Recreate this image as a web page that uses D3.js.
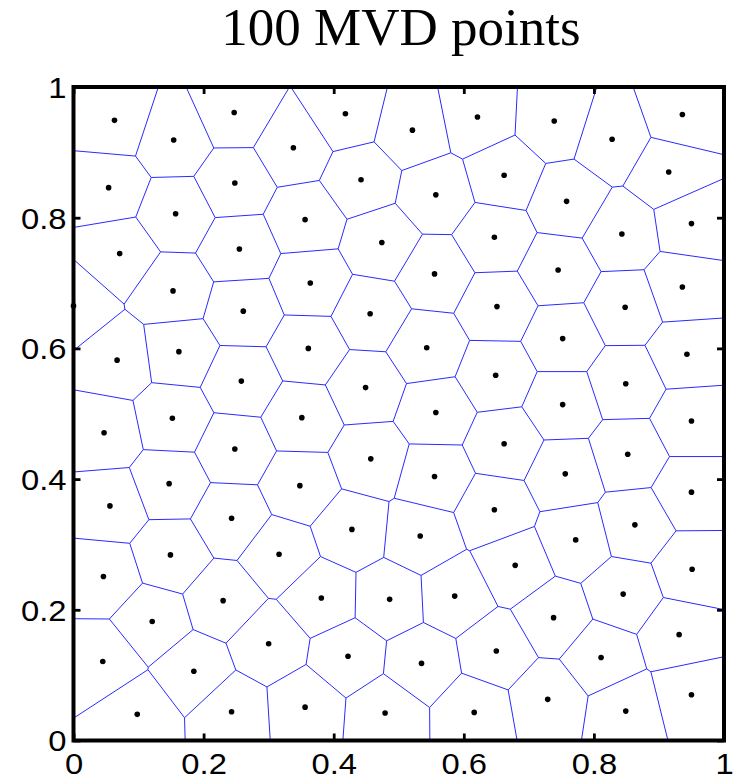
<!DOCTYPE html>
<html>
<head>
<meta charset="utf-8">
<script src="https://cdn.jsdelivr.net/npm/d3@7"></script>
<style>
  html, body { margin: 0; padding: 0; background: #fff; }
  svg { display: block; }
</style>
</head>
<body>
<svg id="chart" width="736" height="778"></svg>
<script>
// Generator points in the unit square
const xs = [0.063,0.154,0.247,0.054,0.248,0.157,0.071,0.255,0.153,0.261,
            0.000,0.418,0.521,0.621,0.338,0.442,0.557,0.662,0.356,0.474,
            0.647,0.364,0.555,0.651,0.739,0.828,0.936,0.915,0.758,0.843,
            0.950,0.745,0.936,0.848,0.067,0.162,0.258,0.047,0.152,0.248,
            0.147,0.056,0.243,0.456,0.361,0.543,0.649,0.449,0.557,0.351,
            0.662,0.457,0.555,0.348,0.647,0.428,0.752,0.943,0.849,0.752,
            0.950,0.852,0.756,0.950,0.863,0.149,0.316,0.046,0.230,0.121,
            0.300,0.045,0.185,0.243,0.098,0.533,0.381,0.486,0.586,0.650,
            0.422,0.535,0.356,0.479,0.616,0.772,0.679,0.951,0.845,0.738,
            0.931,0.811,0.729,0.849,0.950];
const ys = [0.949,0.919,0.961,0.846,0.853,0.806,0.745,0.752,0.688,0.657,
            0.665,0.959,0.934,0.954,0.907,0.858,0.835,0.865,0.797,0.762,
            0.770,0.700,0.714,0.664,0.948,0.920,0.958,0.870,0.825,0.775,
            0.791,0.720,0.694,0.663,0.582,0.595,0.550,0.471,0.493,0.446,
            0.393,0.359,0.340,0.653,0.600,0.601,0.559,0.540,0.502,0.494,
            0.454,0.431,0.404,0.390,0.353,0.323,0.615,0.591,0.546,0.514,
            0.489,0.438,0.408,0.380,0.330,0.284,0.285,0.251,0.214,0.182,
            0.148,0.121,0.106,0.044,0.040,0.313,0.218,0.216,0.221,0.137,
            0.129,0.118,0.051,0.042,0.043,0.307,0.268,0.262,0.224,0.188,
            0.162,0.127,0.063,0.045,0.070];
const ticks = [0, 0.2, 0.4, 0.6, 0.8, 1];
const tickLabels = ["0", "0.2", "0.4", "0.6", "0.8", "1"];
const title = "100 MVD points";

const svg = d3.select("#chart");
const box = { left: 73.5, right: 724, top: 87, bottom: 740.5 };

const x = d3.scaleLinear().domain([0, 1]).range([box.left, box.right]);
const y = d3.scaleLinear().domain([0, 1]).range([box.bottom, box.top]);

const pts = xs.map((v, i) => [x(v), y(ys[i])]);

// Voronoi cells clipped to the axes box
const delaunay = d3.Delaunay.from(pts);
const voronoi = delaunay.voronoi([box.left, box.top, box.right, box.bottom]);

svg.append("path")
  .attr("d", voronoi.render())
  .attr("fill", "none")
  .attr("stroke", "#2a2aff")
  .attr("stroke-width", 1);

// Generator points
svg.append("g")
  .selectAll("circle")
  .data(pts)
  .join("circle")
  .attr("cx", d => d[0])
  .attr("cy", d => d[1])
  .attr("r", 2.8)
  .attr("fill", "#000");

// Axes with inward ticks on all four sides
const tickLen = 7;
const stretch = 1.13;   // tick labels are set a little wide
const fmt = (d, i) => tickLabels[i];

const axBottom = d3.axisBottom(x).tickValues(ticks).tickFormat(fmt).tickSizeInner(-tickLen).tickSizeOuter(0);
const axLeft = d3.axisLeft(y).tickValues(ticks).tickFormat(fmt).tickSizeInner(-tickLen).tickSizeOuter(0);
const axTop = d3.axisTop(x).tickValues(ticks).tickFormat("").tickSizeInner(-tickLen).tickSizeOuter(0);
const axRight = d3.axisRight(y).tickValues(ticks).tickFormat("").tickSizeInner(-tickLen).tickSizeOuter(0);

function styleAxis(g) {
  g.select(".domain").remove();
  g.selectAll(".tick line").attr("stroke", "#000").attr("stroke-width", 2.8);
  g.selectAll(".tick text")
    .attr("fill", "#000")
    .attr("transform", `scale(${stretch},1)`)
    .style("font-family", "'Liberation Sans', Arial, sans-serif")
    .style("font-size", "29px");
}

svg.append("g").attr("transform", `translate(0,${box.bottom})`).call(axBottom).call(styleAxis)
  .selectAll(".tick text").attr("y", 34).attr("dy", "0");
svg.append("g").attr("transform", `translate(${box.left},0)`).call(axLeft).call(styleAxis)
  .selectAll(".tick text").attr("x", -7 / stretch).attr("dy", "0.36em");
svg.append("g").attr("transform", `translate(0,${box.top})`).call(axTop).call(styleAxis);
svg.append("g").attr("transform", `translate(${box.right},0)`).call(axRight).call(styleAxis);

// Axes box
svg.append("rect")
  .attr("x", box.left).attr("y", box.top)
  .attr("width", box.right - box.left).attr("height", box.bottom - box.top)
  .attr("fill", "none")
  .attr("stroke", "#000")
  .attr("stroke-width", 4);

// Title
svg.append("text")
  .attr("x", 401).attr("y", 45)
  .attr("text-anchor", "middle")
  .style("font-family", "'Liberation Serif', 'Times New Roman', serif")
  .style("font-size", "53px")
  .attr("fill", "#000")
  .text(title);
</script>
</body>
</html>
